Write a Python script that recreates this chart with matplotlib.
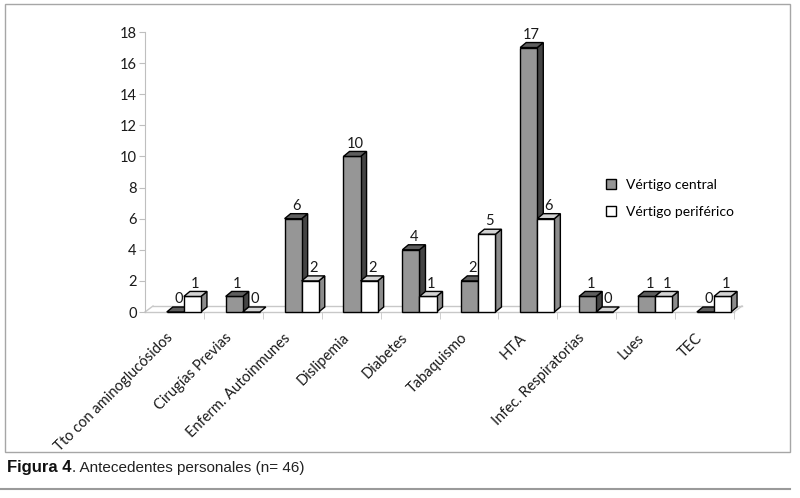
import numpy as np
import matplotlib
matplotlib.use("Agg")
import matplotlib.pyplot as plt
from matplotlib.patches import Polygon, Patch, Rectangle
from matplotlib.lines import Line2D

# Chart data
categories = ["Tto con aminoglucósidos", "Cirugías Previas", "Enferm. Autoinmunes",
              "Dislipemia", "Diabetes", "Tabaquismo", "HTA",
              "Infec. Respiratorias", "Lues", "TEC"]
central = [0, 1, 6, 10, 4, 2, 17, 1, 1, 0]
periferico = [1, 0, 2, 2, 1, 5, 6, 0, 1, 1]
series_names = ["Vértigo central", "Vértigo periférico"]
y_ticks = [0, 2, 4, 6, 8, 10, 12, 14, 16, 18]

W, H = 800, 498
FONT = ["Lato", "DejaVu Sans"]
CAPTION = ["Liberation Sans", "DejaVu Sans"]

plt.rcParams["font.family"] = FONT

fig = plt.figure(figsize=(W / 100, H / 100), dpi=100)
ax = fig.add_axes([145 / W, 1 - 312 / H, (734 - 145) / W, (312 - 32) / H])
ax.set_xlim(-0.5, 9.5)
ax.set_ylim(0, 18)

# 3D depth expressed in data units (pixels -> units)
px_x = (734 - 145) / 10.0
px_y = (312 - 32) / 18.0
dx, dy = 6 / px_x, 5 / px_y        # bar depth
fdx, fdy = 8 / px_x, 6 / px_y      # floor depth

# floor
floor_col = "#c8c8c8"
ax.plot([-0.5, 9.5], [0, 0], color=floor_col, lw=1, clip_on=False, zorder=1)
ax.plot([-0.5 + fdx, 9.5 + fdx], [fdy, fdy], color=floor_col, lw=1, clip_on=False, zorder=1)
ax.plot([-0.5, -0.5 + fdx], [0, fdy], color=floor_col, lw=1, clip_on=False, zorder=1)
ax.plot([9.5, 9.5 + fdx], [0, fdy], color=floor_col, lw=1, clip_on=False, zorder=1)

x = np.arange(len(categories))
bw = 0.29
shift = 0.16
styles = [
    (central, "#969696", "#5e5e5e", "#444444", 3),
    (periferico, "#ffffff", "#d4d4d4", "#8c8c8c", 5),
]
for k, (vals, front, top, side, z) in enumerate(styles):
    xs = x + shift + (k - 0.5) * bw
    bars = ax.bar(xs, vals, width=bw, color=front, edgecolor="black", lw=1,
                  zorder=z, clip_on=False)
    for b, v in zip(bars, vals):
        x0, w, h = b.get_x(), b.get_width(), b.get_height()
        ax.add_patch(Polygon([(x0, h), (x0 + w, h), (x0 + w + dx, h + dy), (x0 + dx, h + dy)],
                             closed=True, facecolor=top, edgecolor="black", lw=1,
                             zorder=z, clip_on=False))
        if h > 0:
            ax.add_patch(Polygon([(x0 + w, 0), (x0 + w + dx, dy), (x0 + w + dx, h + dy), (x0 + w, h)],
                                 closed=True, facecolor=side, edgecolor="black", lw=1,
                                 zorder=z - 0.5, clip_on=False))
        ax.text(x0 + w / 2 + dx / 2, h + dy + 0.05, str(v), ha="center", va="bottom",
                fontsize=10.5, color="#1a1a1a", zorder=10, clip_on=False)

# axes styling
for s in ["top", "right", "bottom"]:
    ax.spines[s].set_visible(False)
ax.spines["left"].set_color("#bfbfbf")
ax.set_yticks(y_ticks)
ax.tick_params(axis="y", length=4, color="#bfbfbf", pad=2, labelsize=10.5, labelcolor="#1a1a1a")
ax.set_xticks(x - 0.07)
ax.set_xticklabels(categories, rotation=45, ha="right", va="center",
                   rotation_mode="anchor", fontsize=10.5, color="#1a1a1a")
ax.set_xticks(np.arange(0.5, 10, 1), minor=True)
ax.tick_params(axis="x", which="major", length=0, pad=17)
ax.tick_params(axis="x", which="minor", length=5, color=floor_col)

handles = [Patch(facecolor="#969696", edgecolor="black", lw=1),
           Patch(facecolor="#ffffff", edgecolor="black", lw=1)]
fig.legend(handles, series_names, loc="upper left",
           bbox_to_anchor=(606 / W, 1 - 179 / H), frameon=False, fontsize=10,
           handlelength=0.75, handleheight=0.75, handletextpad=0.7,
           labelspacing=1.05, borderpad=0, borderaxespad=0)

# outer frame and caption
fig.add_artist(Rectangle((5 / W, 1 - 452 / H), (790 - 5) / W, (452 - 4) / H,
                         transform=fig.transFigure, fill=False, edgecolor="#a6a6a6", lw=1))
fig.add_artist(Line2D([0, 790 / W], [1 - 489 / H, 1 - 489 / H], transform=fig.transFigure,
                      color="#9a9a9a", lw=1.5))
cap1 = fig.text(7 / W, 1 - 472 / H, "Figura 4", family=CAPTION, fontweight="bold",
                fontsize=12, color="#111111", va="baseline")
renderer = fig.canvas.get_renderer()
bb = cap1.get_window_extent(renderer)
fig.text(bb.x1 / W, 1 - 472 / H, ". Antecedentes personales (n= 46)", family=CAPTION,
         fontsize=11, color="#222222", va="baseline")

fig.savefig("out.png", dpi=100)
